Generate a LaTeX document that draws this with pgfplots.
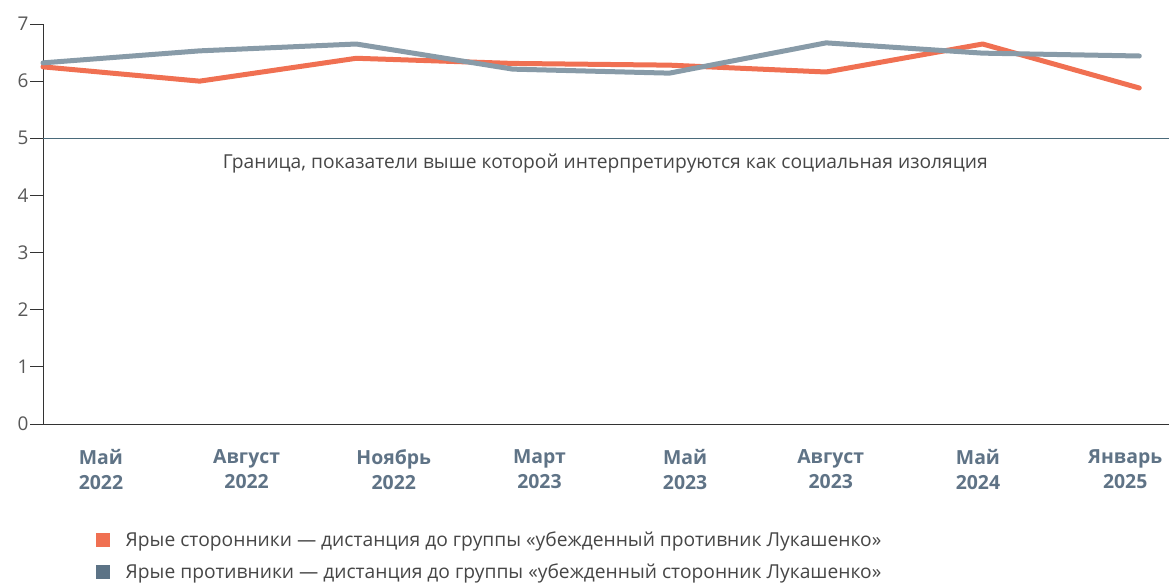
\documentclass[border=0pt]{standalone}
\usepackage{pgfplots}
\pgfplotsset{compat=1.18}
\usepackage{fontspec}
\setmainfont{Open Sans}
\definecolor{orangeL}{RGB}{240,112,82}
\definecolor{grayL}{RGB}{136,155,168}
\definecolor{grayLeg}{RGB}{92,115,134}
\definecolor{tickC}{RGB}{95,115,134}
\definecolor{thr}{RGB}{74,106,122}
\definecolor{txt}{RGB}{70,70,70}
\begin{document}
\begin{tikzpicture}
\begin{axis}[
  at={(43bp,159bp)}, anchor=south west,
  scale only axis, width=1126bp, height=400bp,
  xmin=0, xmax=7.19, ymin=0, ymax=7,
  axis x line*=bottom, axis y line*=left,
  axis line style={-, black!80, line width=1bp},
  ytick={0,1,...,7},
  ytick pos=left,
  tick align=outside,
  major tick length=13bp,
  ytick style={black!80, line width=1bp},
  yticklabel style={font=\fontsize{19}{20}\selectfont, text=txt!90, xshift=2bp},
  /pgf/number format/assume math mode=true,
  xtick={0.37,1.30,2.24,3.17,4.10,5.03,5.97,6.91},
  xticklabels={{Май\\2022},{Август\\2022},{Ноябрь\\2022},{Март\\2023},{Май\\2023},{Август\\2023},{Май\\2024},{Январь\\2025}},
  xticklabel style={font=\fontsize{19.5}{25}\selectfont\bfseries, text=tickC, align=center, yshift=-9bp},
  xtick style={draw=none},
  clip=false,
  legend cell align=left,
  legend style={at={(0.044,-0.26)}, anchor=north west, draw=none, fill=none,
    font=\fontsize{19.3}{22}\selectfont, text=txt, row sep=11bp,
    /tikz/every odd column/.style={column sep=14bp}},
  legend image code/.code={\fill[#1] (0bp,-7bp) rectangle (14bp,7bp);},
]
\addlegendimage{fill=orangeL, draw=none}
\addlegendentry{Ярые сторонники — дистанция до группы «убежденный противник Лукашенко»}
\addlegendimage{fill=grayLeg, draw=none}
\addlegendentry{Ярые противники — дистанция до группы «убежденный сторонник Лукашенко»}
\addplot[forget plot, color=thr, line width=0.9bp] coordinates {(0,5) (7.19,5)};
\addplot[forget plot, color=orangeL, line width=5bp, line cap=round, line join=round]
  coordinates {(0,6.25) (1,6.00) (2,6.40) (3,6.31) (4,6.28) (5,6.16) (6,6.65) (7,5.88)};
\addplot[forget plot, color=grayL, line width=5bp, line cap=round, line join=round]
  coordinates {(0,6.32) (1,6.53) (2,6.65) (3,6.21) (4,6.14) (5,6.67) (6,6.49) (7,6.44)};
\node[font=\fontsize{19.3}{20}\selectfont, text=txt] at (axis cs:3.59,4.55) {Граница, показатели выше которой интерпретируются как социальная изоляция};
\end{axis}
\pgfresetboundingbox
\path (0,0) rectangle (1169bp,583bp);
\end{tikzpicture}
\end{document}
